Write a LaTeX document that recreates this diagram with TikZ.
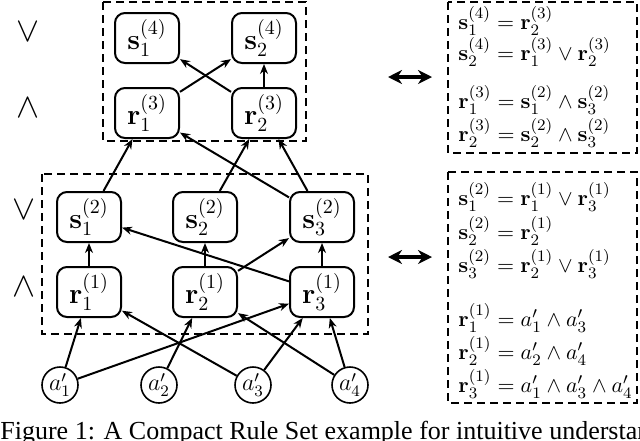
\documentclass[tikz,border=0pt]{standalone}
\usepackage{amsmath, amssymb}
\usepackage[no-math]{fontspec}
\newfontfamily\capfont{Liberation Serif}
\usetikzlibrary{arrows.meta}
\begin{document}
\begin{tikzpicture}[x=0.5pt, y=-0.5pt]
        % ================= styles =================
        \tikzset{
            rnode/.style={draw=black, line width=1pt, rounded corners=5pt, minimum width=32pt, minimum height=25pt, inner sep=0pt, font=\Large},
            anode/.style={circle, draw=black, line width=0.8pt, minimum size=18pt, inner sep=0pt, font=\large},
            edge/.style={line width=1pt, black, -{Stealth[length=5pt, width=4pt]}},
            group/.style={draw=black, line width=0.8pt, dash pattern=on 4pt off 2.5pt},
            rule/.style={anchor=west, inner sep=0pt, font=\fontsize{11}{13}\selectfont}
        }
        \useasboundingbox (0,0) rectangle (640,440);
        \clip (0,0) rectangle (640,440);

        % ================= top layers =================
        \draw[group] (103,2) rectangle (306,141);
        \node[rnode] (s41) at (147,38) {$\mathbf{s}_1^{(4)}$};
        \node[rnode] (s42) at (264,38) {$\mathbf{s}_2^{(4)}$};
        \node[rnode] (r31) at (147,113) {$\mathbf{r}_1^{(3)}$};
        \node[rnode] (r32) at (264,113) {$\mathbf{r}_2^{(3)}$};
        \node at (28,32) {\LARGE$\vee$};
        \node at (28,108) {\LARGE$\wedge$};

        % ================= bottom layers =================
        \draw[group] (42,174) rectangle (368,334);
        \node[rnode] (s21) at (89,217) {$\mathbf{s}_1^{(2)}$};
        \node[rnode] (s22) at (205,217) {$\mathbf{s}_2^{(2)}$};
        \node[rnode] (s23) at (322,217) {$\mathbf{s}_3^{(2)}$};
        \node[rnode] (r11) at (89,292) {$\mathbf{r}_1^{(1)}$};
        \node[rnode] (r12) at (205,292) {$\mathbf{r}_2^{(1)}$};
        \node[rnode] (r13) at (322,292) {$\mathbf{r}_3^{(1)}$};
        \node at (24,210) {\LARGE$\vee$};
        \node at (24,287) {\LARGE$\wedge$};

        % inputs
        \node[anode] (a1) at (60,385) {$a'_1$};
        \node[anode] (a2) at (159,385) {$a'_2$};
        \node[anode] (a3) at (253,385) {$a'_3$};
        \node[anode] (a4) at (350,385) {$a'_4$};

        % ================= edges =================
        \draw[edge] (a1) -- (r11);
        \draw[edge] (a1) -- (r13);
        \draw[edge] (a2) -- (r12);
        \draw[edge] (a3) -- (r11);
        \draw[edge] (a3) -- (r13);
        \draw[edge] (a4) -- (r12);
        \draw[edge] (a4) -- (r13);
        \draw[edge] (r11) -- (s21);
        \draw[edge] (r12) -- (s22);
        \draw[edge] (r12) -- (s23);
        \draw[edge] (r13) -- (s23);
        \draw[edge] (r13) -- (s21);
        \draw[edge] (s21) -- (r31);
        \draw[edge] (s22) -- (r32);
        \draw[edge] (s23) -- (r31);
        \draw[edge] (s23) -- (r32);
        \draw[edge] (r31) -- (s42);
        \draw[edge] (r32) -- (s41);
        \draw[edge] (r32) -- (s42);

        % ================= rule sets =================
        \coordinate (u1) at (388,77);  \coordinate (u2) at (432,77);
        \coordinate (l1) at (388,257); \coordinate (l2) at (432,257);
        \draw[line width=2pt, {Stealth[length=7pt, width=7pt]}-{Stealth[length=7pt, width=7pt]}] (u1) -- (u2);
        \draw[line width=2pt, {Stealth[length=7pt, width=7pt]}-{Stealth[length=7pt, width=7pt]}] (l1) -- (l2);

        \draw[group] (448,2) rectangle (637,153);
        \node[rule] at (458,21) {$\mathbf{s}_1^{(4)}=\mathbf{r}_2^{(3)}$};
        \node[rule] at (458,52) {$\mathbf{s}_2^{(4)}=\mathbf{r}_1^{(3)}\vee\mathbf{r}_2^{(3)}$};
        \node[rule] at (458,100) {$\mathbf{r}_1^{(3)}=\mathbf{s}_1^{(2)}\wedge\mathbf{s}_3^{(2)}$};
        \node[rule] at (458,133) {$\mathbf{r}_2^{(3)}=\mathbf{s}_2^{(2)}\wedge\mathbf{s}_3^{(2)}$};

        \draw[group] (448,172) rectangle (637,403);
        \node[rule] at (458,197) {$\mathbf{s}_1^{(2)}=\mathbf{r}_1^{(1)}\vee\mathbf{r}_3^{(1)}$};
        \node[rule] at (458,231) {$\mathbf{s}_2^{(2)}=\mathbf{r}_2^{(1)}$};
        \node[rule] at (458,264) {$\mathbf{s}_3^{(2)}=\mathbf{r}_2^{(1)}\vee\mathbf{r}_3^{(1)}$};
        \node[rule] at (458,318) {$\mathbf{r}_1^{(1)}=a'_1\wedge a'_3$};
        \node[rule] at (458,351) {$\mathbf{r}_2^{(1)}=a'_2\wedge a'_4$};
        \node[rule] at (458,384) {$\mathbf{r}_3^{(1)}=a'_1\wedge a'_3\wedge a'_4$};

        % caption (cut at the bottom edge)
        \node[anchor=north west, inner sep=0pt, font=\capfont\fontsize{13}{15}\selectfont] (cap) at (0,421) {Figure 1: A Compact Rule Set example for intuitive understanding};
\end{tikzpicture}
\end{document}
